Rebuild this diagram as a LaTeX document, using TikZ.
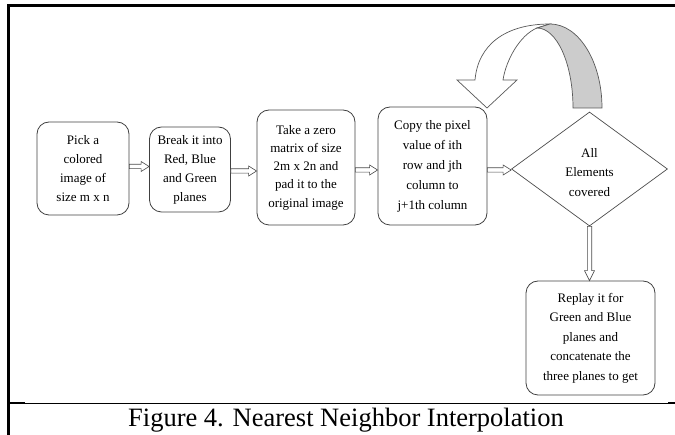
\documentclass[tikz,border=0pt]{standalone}
\usepackage{fontspec}
\setmainfont{Liberation Serif}
\usetikzlibrary{calc,shapes.geometric}
\newcommand{\hblk}[2]{\draw[blk] let \p1=#1, \p2=#2 in
  (\x1,{\y1-2.2pt}) -- ({\x2-8pt},{\y1-2.2pt}) -- ({\x2-8pt},{\y1-5pt}) -- (\x2,\y1)
  -- ({\x2-8pt},{\y1+5pt}) -- ({\x2-8pt},{\y1+2.2pt}) -- (\x1,{\y1+2.2pt}) -- cycle;}
\newcommand{\vblk}[2]{\draw[blk] let \p1=#1, \p2=#2 in
  ({\x1-2.2pt},\y1) -- ({\x1-2.2pt},{\y2+10pt}) -- ({\x1-5pt},{\y2+10pt}) -- (\x1,\y2)
  -- ({\x1+5pt},{\y2+10pt}) -- ({\x1+2.2pt},{\y2+10pt}) -- ({\x1+2.2pt},\y1) -- cycle;}
\begin{document}
\begin{tikzpicture}[x=1pt,y=-1pt,
  box/.style={draw=black!75, line width=0.8pt, rounded corners=12pt, align=center,
    font=\fontsize{13}{19}\selectfont, inner sep=0pt},
  blk/.style={draw=black!70, line width=0.6pt, fill=white},
  band/.style={draw=black!65, line width=0.7pt}]
\useasboundingbox (0,0) rectangle (675,435);
% frame
\draw[line width=3pt] (8.5,435) -- (8.5,5.5) -- (675,5.5);
\draw[line width=0.8pt] (8.5,403) -- (672,403);
\draw[line width=1.8pt] (8.5,403) -- (25,403);
\draw[line width=1.8pt] (668,403) -- (675,403);
% boxes
\node[box, minimum width=92pt, minimum height=93pt] (b1) at (83,168.5)
  {Pick a\\colored\\image of\\size m x n};
\node[box, minimum width=81pt, minimum height=85pt] (b2) at (190,169.5)
  {Break it into\\Red, Blue\\and Green\\planes};
\node[box, minimum width=98pt, minimum height=115pt, font=\fontsize{13}{18.2}\selectfont] (b3) at (306,167.5)
  {Take a zero\\matrix of size\\2m x 2n and\\pad it to the\\original image};
\node[box, minimum width=109pt, minimum height=118pt, font=\fontsize{13}{20}\selectfont] (b4) at (432.5,166)
  {Copy the pixel\\value of ith\\row and jth\\column to\\j+1th column};
\node[draw=black!70, line width=0.7pt, diamond, minimum width=156pt, minimum height=114pt,
  inner sep=0pt] (d) at (589.5,169) {};
\node[align=center, inner sep=0pt, font=\fontsize{13}{19.5}\selectfont] (dt) at ($(d.center)+(0,3.5)$)
  {All\\Elements\\covered};
\node[box, minimum width=129pt, minimum height=114pt, font=\fontsize{13}{19.5}\selectfont] (b5) at (590.5,338)
  {Replay it for\\Green and Blue\\planes and\\concatenate the\\three planes to get};
% straight block arrows
\hblk{($(b1.east)+(0,-2)$)}{($(b2.west)+(0,-2)$)}
\hblk{($(b2.east)+(0,1.5)$)}{($(b3.west)+(0,1.5)$)}
\hblk{($(b3.east)+(0,2.5)$)}{($(b4.west)+(0,2.5)$)}
\hblk{($(b4.east)+(0,4)$)}{($(d.west)+(0,1)$)}
\vblk{(d.south)}{(b5.north)}
% curved U-turn arrow
\draw[band, fill=white] (457,80) -- (475,80) .. controls (478,45) and (505,24) .. (550,24)
  -- (537,28) .. controls (520,35) and (506,60) .. (503,80) -- (517,80) -- (487,108) -- cycle;
\draw[band, fill=black!20] (573,108) -- (602,108) .. controls (602,61.6) and (578.7,24) .. (550,24)
  -- (537,28) .. controls (556.9,28) and (573,63.8) .. (573,108) -- cycle;
% caption
\node[anchor=base, font=\fontsize{26.5}{30}\selectfont, inner sep=0pt] (cap) at (346,427)
  {Figure 4. Nearest Neighbor Interpolation};
\end{tikzpicture}
\end{document}
